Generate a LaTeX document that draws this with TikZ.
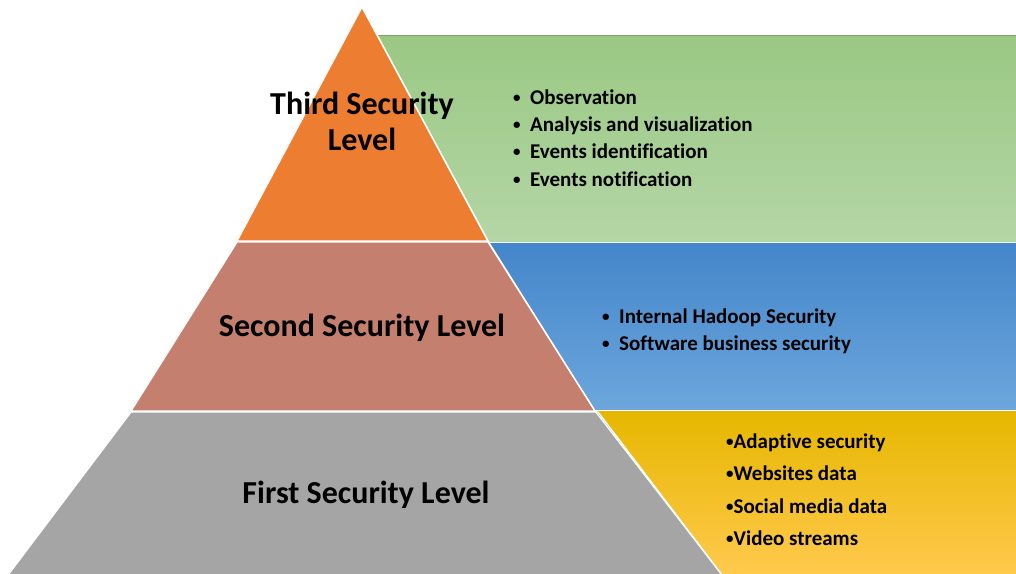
\documentclass[tikz,border=0pt]{standalone}
\usepackage{fontspec}
\setmainfont{Carlito}[Ligatures=NoCommon]
\definecolor{orangeL}{HTML}{ED7D31}
\definecolor{brownL}{HTML}{C47F6F}
\definecolor{grayL}{HTML}{A5A5A5}
\definecolor{greenT}{HTML}{9AC883}
\definecolor{greenB}{HTML}{B4D6A6}
\definecolor{blueT}{HTML}{4486CA}
\definecolor{blueB}{HTML}{6CA6DC}
\definecolor{yelT}{HTML}{E6B700}
\definecolor{yelM}{HTML}{FFC000}
\definecolor{yelB}{HTML}{FFC94C}
\newcommand{\smallbul}{\raisebox{1.6pt}{\fontsize{15}{15}\selectfont •}}
\tikzset{
  level/.style={draw=white,line width=1.4pt,line join=round},
  head/.style={font=\fontsize{32}{36}\selectfont\bfseries,anchor=base,inner sep=0pt},
  item/.style={font=\fontsize{21}{26}\selectfont\bfseries,anchor=base west,inner sep=0pt},
}
\begin{document}
\begin{tikzpicture}[x=1pt,y=-1pt]
\useasboundingbox[fill=white] (0,0) rectangle (1016,573);
% panels
\shade[top color=greenT,bottom color=greenB] (378,35) rectangle (1016,242);
\draw[greenT!80!black,line width=0.6pt] (378,35) -- (1016,35);
\shade[top color=blueT,bottom color=blueB] (450,243) rectangle (1016,410);
\shade[top color=yelT,middle color=yelM,bottom color=yelB] (560,411) rectangle (1016,573);
\draw[white,line width=1.5pt] (450,242.5) -- (1016,242.5);
\draw[white,line width=1.5pt] (560,410.5) -- (1016,410.5);
% pyramid
\fill[level,fill=grayL] (131,412) -- (598,412) -- (722,575) -- (8,575) -- cycle;
\fill[level,fill=brownL] (237,242) -- (488,242) -- (595,411) -- (131,411) -- cycle;
\fill[level,fill=orangeL] (362,7) -- (488,241) -- (237,241) -- cycle;
\draw[white,line width=1.4pt] (237,241.5) -- (489,241.5);
\draw[white,line width=1.4pt] (131,411.5) -- (597,411.5);
\draw[white,line width=1.2pt] (362,7) -- (488,241) -- (595,411) -- (722,575);
% headings
\node[head] (t3a) at (362,114) {Third Security};
\node[head] (t3b) at (362,150) {Level};
\node[head] (t2) at (362,336) {Second Security Level};
\node[head] (t1) at (366,503) {First Security Level};
% green items
\node[item] (g1) at (513,104) {\makebox[17pt][l]{\smallbul}Observation};
\node[item] (g2) at (513,131) {\makebox[17pt][l]{\smallbul}Analysis and visualization};
\node[item] (g3) at (513,158) {\makebox[17pt][l]{\smallbul}Events identification};
\node[item] (g4) at (513,186) {\makebox[17pt][l]{\smallbul}Events notification};
% blue items
\node[item] (b1) at (602,323) {\makebox[17pt][l]{\smallbul}Internal Hadoop Security};
\node[item] (b2) at (602,350) {\makebox[17pt][l]{\smallbul}Software business security};
% yellow items
\node[item] (y1) at (726,448) {\smallbul Adaptive security};
\node[item] (y2) at (726,480) {\smallbul Websites data};
\node[item] (y3) at (726,513) {\smallbul Social media data};
\node[item] (y4) at (726,545) {\smallbul Video streams};
\end{tikzpicture}
\end{document}
